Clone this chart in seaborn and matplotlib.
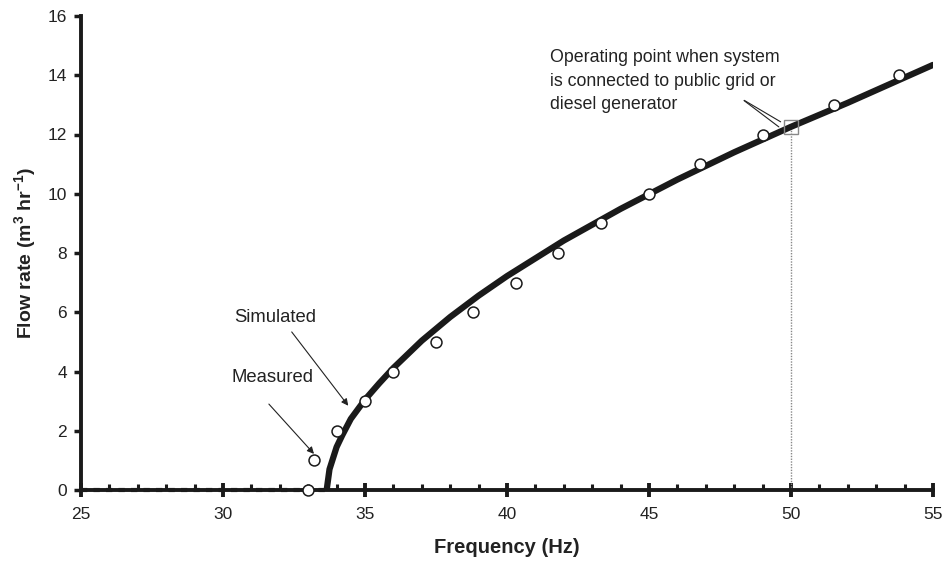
import matplotlib
matplotlib.use("Agg")
import matplotlib.pyplot as plt
from matplotlib.ticker import MultipleLocator
import seaborn as sns
import pandas as pd

# Simulated curve
sim_x = [33.65, 33.70, 33.75, 33.85, 34.0, 34.2, 34.5, 35.0, 35.5, 36.0, 37.0, 38.0,
         39.0, 40.0, 42.0, 44.0, 46.0, 48.0, 50.0, 52.0, 55.0]
sim_y = [0.0, 0.35, 0.7, 1.0, 1.45, 1.85, 2.4, 3.05, 3.6, 4.12, 5.04, 5.84,
         6.56, 7.22, 8.42, 9.49, 10.48, 11.40, 12.26, 13.07, 14.35]
# Zero-flow part of simulated curve
zero_x = [25.0, 33.65]
zero_y = [0.0, 0.0]

# Measured points
meas_x = [33.0, 33.2, 34.0, 35.0, 36.0, 37.5, 38.8, 40.3, 41.8, 43.3, 45.0, 46.8, 49.0, 51.5, 53.8]
meas_y = [0, 1, 2, 3, 4, 5, 6, 7, 8, 9, 10, 11, 12, 13, 14]

# Operating point
op_x = [50.0]
op_y = [12.25]

x_ticks = [25, 30, 35, 40, 45, 50, 55]
y_ticks = [0, 2, 4, 6, 8, 10, 12, 14, 16]

sns.set_style("ticks")
plt.rcParams['font.family'] = ['Liberation Sans', 'DejaVu Sans']
plt.rcParams['mathtext.fontset'] = 'custom'
plt.rcParams['mathtext.rm'] = 'Liberation Sans'
plt.rcParams['mathtext.bf'] = 'Liberation Sans:bold'
plt.rcParams['mathtext.it'] = 'Liberation Sans:italic'

fig = plt.figure(figsize=(9.45, 5.64), dpi=100)
ax = fig.add_axes([81/945, 74/564, (933-81)/945, (490-16)/564])

sim_df = pd.DataFrame({'x': sim_x, 'y': sim_y})
meas_df = pd.DataFrame({'x': meas_x, 'y': meas_y})

# operating point dotted vertical line
ax.plot([op_x[0], op_x[0]], [0, op_y[0]], color='#888888', lw=1.0, ls=(0, (1, 1)), zorder=2)

sns.lineplot(data=sim_df, x='x', y='y', ax=ax, color='#1a1a1a', lw=4.5,
             sort=False, estimator=None, zorder=3)
ax.plot(zero_x, zero_y, color='#1a1a1a', lw=3, ls=(0, (1.5, 1.5)), zorder=3, clip_on=False)

sns.scatterplot(data=meas_df, x='x', y='y', ax=ax, marker='o', s=62,
                facecolor='white', edgecolor='#1a1a1a', linewidth=1.1, zorder=5, clip_on=False)

ax.plot(op_x, op_y, marker='s', ms=10, mfc='none', mec='#888888', mew=1.0, zorder=6, ls='none')

ax.set_xlim(25, 55)
ax.set_ylim(0, 16)
ax.set_xticks(x_ticks)
ax.set_yticks(y_ticks)
ax.xaxis.set_minor_locator(MultipleLocator(1))
ax.set_xticklabels([str(t) for t in x_ticks])
ax.set_yticklabels([str(t) for t in y_ticks])

for s in ['top', 'right']:
    ax.spines[s].set_visible(False)
for s in ['left', 'bottom']:
    ax.spines[s].set_linewidth(2.8)
    ax.spines[s].set_color('#1a1a1a')

ax.tick_params(axis='x', which='major', direction='inout', length=10, width=2.8,
               color='#1a1a1a', labelsize=12.5, labelcolor='#222222', pad=7)
ax.tick_params(axis='x', which='minor', direction='in', length=4, width=2.2, color='#1a1a1a')
ax.tick_params(axis='y', which='major', direction='out', length=5, width=2.5,
               color='#1a1a1a', labelsize=12.5, labelcolor='#222222', pad=5)

ax.set_xlabel('Frequency (Hz)', fontsize=14.5, fontweight='bold', color='#222222', labelpad=12)
ax.set_ylabel(r'Flow rate (m$^\mathbf{3}$ hr$^\mathbf{-1}$)', fontsize=14, fontweight='bold',
              color='#222222', labelpad=7)

# Annotations
ax.text(31.83, 5.81, 'Simulated', fontsize=13.3, color='#222222', ha='center', va='center')
ax.annotate('', xy=(34.47, 2.77), xytext=(32.36, 5.41),
            arrowprops=dict(arrowstyle='-|>', color='#222222', lw=0.8, mutation_scale=10))
ax.text(31.73, 3.80, 'Measured', fontsize=13.3, color='#222222', ha='center', va='center')
ax.annotate('', xy=(33.27, 1.15), xytext=(31.55, 2.97),
            arrowprops=dict(arrowstyle='-|>', color='#222222', lw=0.8, mutation_scale=10))

ax.text(49.61, 14.88, 'Operating point when system\nis connected to public grid or\ndiesel generator',
        fontsize=12.8, color='#222222', ha='right', va='top', linespacing=1.5,
        multialignment='left')
ax.annotate('', xy=(49.72, 12.38), xytext=(48.27, 13.2),
            arrowprops=dict(arrowstyle='-', color='#222222', lw=0.8))
ax.annotate('', xy=(49.65, 12.2), xytext=(48.27, 13.2),
            arrowprops=dict(arrowstyle='-', color='#222222', lw=0.8))

fig.savefig('out.png', dpi=100)
